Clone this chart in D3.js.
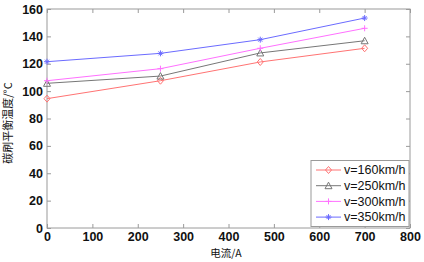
<!DOCTYPE html>
<html>
<head>
<meta charset="utf-8">
<script src="https://cdn.jsdelivr.net/npm/d3@7"></script>
<style>
  body { margin: 0; background: #fff; }
  svg text { font-family: "Liberation Sans", Arial, sans-serif; }
</style>
</head>
<body>
<svg id="chart" width="424" height="262"></svg>
<script>
const currents = [0, 250, 470, 700];
const speedLabels = ["v=160km/h", "v=250km/h", "v=300km/h", "v=350km/h"];
const temp160 = [94.5, 107.6, 121.3, 131.3];
const temp250 = [105.7, 111.0, 127.9, 136.8];
const temp300 = [107.6, 116.4, 131.3, 145.9];
const temp350 = [121.5, 127.6, 137.6, 153.4];
const xTicks = [0, 100, 200, 300, 400, 500, 600, 700, 800];
const yTicks = [0, 20, 40, 60, 80, 100, 120, 140, 160];

const series = [temp160, temp250, temp300, temp350].map((vals, i) => ({
    name: speedLabels[i],
    values: vals.map((v, j) => ({x: currents[j], y: v}))
}));

const colors = ["#ff7373", "#777777", "#ff70ff", "#6b6bff"];
const markers = ["diamond", "triangle", "plus", "star"];

const svg = d3.select("#chart");
const mLeft = 47, mRight = 410, mTop = 9, mBottom = 228;

const x = d3.scaleLinear().domain([0, 800]).range([mLeft, mRight]);
const y = d3.scaleLinear().domain([0, 160]).range([mBottom, mTop]);

const axisColor = "#9a9a9a";

// frame
svg.append("rect")
    .attr("x", mLeft).attr("y", mTop)
    .attr("width", mRight - mLeft).attr("height", mBottom - mTop)
    .attr("fill", "none").attr("stroke", axisColor).attr("stroke-width", 1);

// inward ticks on all four sides
const tickLen = 4;
svg.append("g").attr("transform", `translate(0,${mBottom})`)
    .call(d3.axisBottom(x).tickValues(xTicks).tickSize(-tickLen).tickPadding(4).tickSizeOuter(0));
svg.append("g").attr("transform", `translate(${mLeft},0)`)
    .call(d3.axisLeft(y).tickValues(yTicks).tickSize(-tickLen).tickPadding(4).tickSizeOuter(0));
svg.append("g").attr("transform", `translate(0,${mTop})`)
    .call(d3.axisTop(x).tickValues(xTicks).tickSize(-tickLen).tickFormat("").tickSizeOuter(0));
svg.append("g").attr("transform", `translate(${mRight},0)`)
    .call(d3.axisRight(y).tickValues(yTicks).tickSize(-tickLen).tickFormat("").tickSizeOuter(0));

svg.selectAll(".domain").remove();
svg.selectAll(".tick line").attr("stroke", axisColor);
svg.selectAll(".tick text")
    .attr("fill", "#111")
    .style("font-size", "12.5px")
    .style("font-weight", "bold");

// lines and markers
const line = d3.line().x(d => x(d.x)).y(d => y(d.y));

function drawMarker(g, type, color) {
    if (type === "diamond") {
        g.append("path").attr("d", "M0,-3.5L3,0L0,3.5L-3,0Z")
            .attr("fill", "none").attr("stroke", color);
    } else if (type === "triangle") {
        g.append("path").attr("d", "M0,-3.5L3.5,3L-3.5,3Z")
            .attr("fill", "none").attr("stroke", color);
    } else if (type === "plus") {
        g.append("path").attr("d", "M-3,0H3M0,-3V3")
            .attr("stroke", color);
    } else {
        g.append("path").attr("d", "M-3,0H3M0,-3V3M-2,-2L2,2M-2,2L2,-2")
            .attr("stroke", color);
    }
}

series.forEach((s, i) => {
    svg.append("path").datum(s.values)
        .attr("fill", "none").attr("stroke", colors[i]).attr("stroke-width", 1)
        .attr("d", line);
    s.values.forEach(p => {
        const g = svg.append("g").attr("transform", `translate(${x(p.x)},${y(p.y)})`);
        drawMarker(g, markers[i], colors[i]);
    });
});

// legend
const legend = svg.append("g");
legend.append("rect")
    .attr("x", 311).attr("y", 160.5).attr("width", 98).attr("height", 66)
    .attr("fill", "#fff").attr("stroke", axisColor);
speedLabels.forEach((name, i) => {
    const ly = 170 + i * 15.7;
    legend.append("line").attr("x1", 316).attr("x2", 341).attr("y1", ly).attr("y2", ly)
        .attr("stroke", colors[i]);
    const g = legend.append("g").attr("transform", `translate(328.5,${ly})`);
    drawMarker(g, markers[i], colors[i]);
    legend.append("text").attr("x", 344).attr("y", ly).attr("dy", "0.35em")
        .style("font-size", "12.5px").attr("fill", "#111").text(name);
});

// axis titles
svg.append("text")
    .attr("x", 226).attr("y", 253.5).attr("dy", "0.35em")
    .attr("text-anchor", "middle")
    .style("font-family", "'Noto Sans CJK SC', sans-serif")
    .style("font-size", "10.5px").attr("fill", "#111")
    .text("电流/A");

svg.append("text")
    .attr("transform", "translate(8,123) rotate(-90)")
    .attr("dy", "0.35em")
    .attr("text-anchor", "middle")
    .style("font-family", "'Noto Sans CJK SC', sans-serif")
    .style("font-size", "11px").attr("fill", "#111")
    .text("碳刷平衡温度/°C");
</script>
</body>
</html>
